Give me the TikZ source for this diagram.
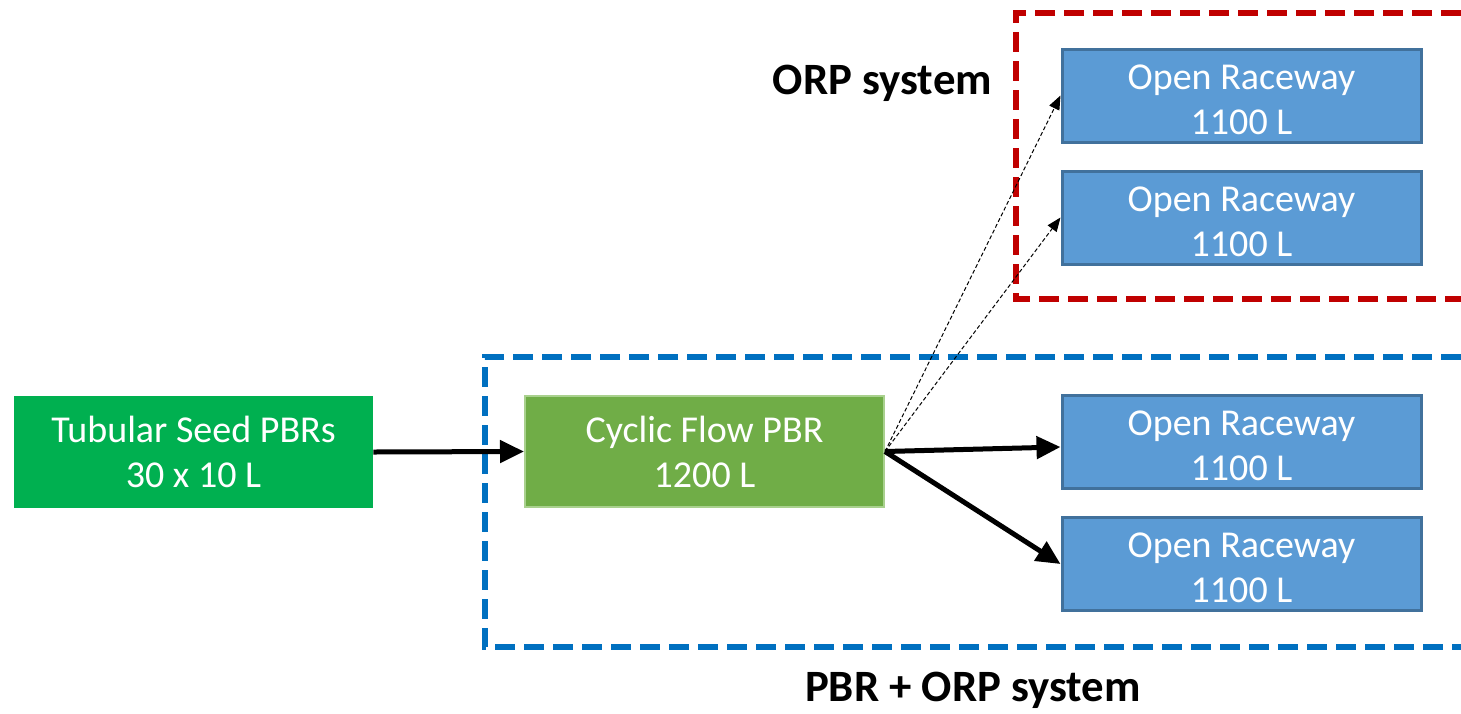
\documentclass[tikz,border=0pt]{standalone}
\usepackage{fontspec}
\setmainfont{Carlito}
\usetikzlibrary{arrows.meta}
\definecolor{seedgreen}{HTML}{00B050}
\definecolor{pbrgreen}{HTML}{70AD47}
\definecolor{pbrborder}{HTML}{A9D18E}
\definecolor{orpblue}{HTML}{5B9BD5}
\definecolor{orpborder}{HTML}{41719C}
\definecolor{redline}{HTML}{C00000}
\definecolor{blueline}{HTML}{0070C0}
\newcommand{\tanktext}[3][2pt]{\raisebox{-#1}[\height][\depth]{#2}\\\raisebox{-#1}[\height][\depth]{#3}}
\tikzset{
    reactor/.style={minimum width=179.5pt, align=center, text=white,
        font=\fontsize{19}{22.5}\selectfont, inner sep=0pt},
    raceway/.style={reactor, fill=orpblue, draw=orpborder, line width=1.5pt,
        minimum height=46.5pt},
    flow/.style={-{Triangle[length=12pt,width=11pt]}, line width=2.5pt},
    trial/.style={-{Triangle[length=7pt,width=5.5pt]}, line width=0.5pt,
        dash pattern=on 2pt off 1.2pt},
    system/.style={line width=3pt, dash pattern=on 10pt off 4.5pt},
    syslabel/.style={font=\fontsize{22.4}{26}\bfseries\selectfont}
}
\begin{document}
\begin{tikzpicture}[x=0.5pt, y=-0.5pt]
\useasboundingbox (0,0) rectangle (1461,713);

% system outlines, open to the right
\draw[system, redline] (1461,13) -- (1016,13) -- (1016,299) -- (1461,299);
\draw[system, blueline] (1461,357) -- (485,357) -- (485,647) -- (1461,647);

\node[syslabel, anchor=east] (orplabel) at (999,83) {ORP system};
\node[syslabel] (pbrlabel) at (973,690) {PBR + ORP system};

\node[reactor, fill=seedgreen, minimum height=56pt] (seed) at (193.5,452)
    {\tanktext[0pt]{Tubular Seed PBRs}{30 x 10 L}};
\node[reactor, fill=pbrgreen, draw=pbrborder, line width=1pt, minimum height=55.5pt]
    (cyclic) at (704.5,451.5) {\tanktext[0pt]{Cyclic Flow PBR}{1200 L}};

\node[raceway] (race1) at (1241.5,95.5) {\tanktext{Open Raceway}{1100 L}};
\node[raceway] (race2) at (1241.5,217.5) {\tanktext{Open Raceway}{1100 L}};
\node[raceway] (race3) at (1241.5,442) {\tanktext{Open Raceway}{1100 L}};
\node[raceway] (race4) at (1241.5,564) {\tanktext{Open Raceway}{1100 L}};

\draw[flow] (seed.east) -- (cyclic.west);
\draw[flow] (cyclic.east) -- ([yshift=-2.5pt]race3.west);
\draw[flow] (cyclic.east) -- (race4.west);
\draw[trial] (cyclic.east) -- (race1.west);
\draw[trial] (cyclic.east) -- (race2.west);
\end{tikzpicture}
\end{document}
